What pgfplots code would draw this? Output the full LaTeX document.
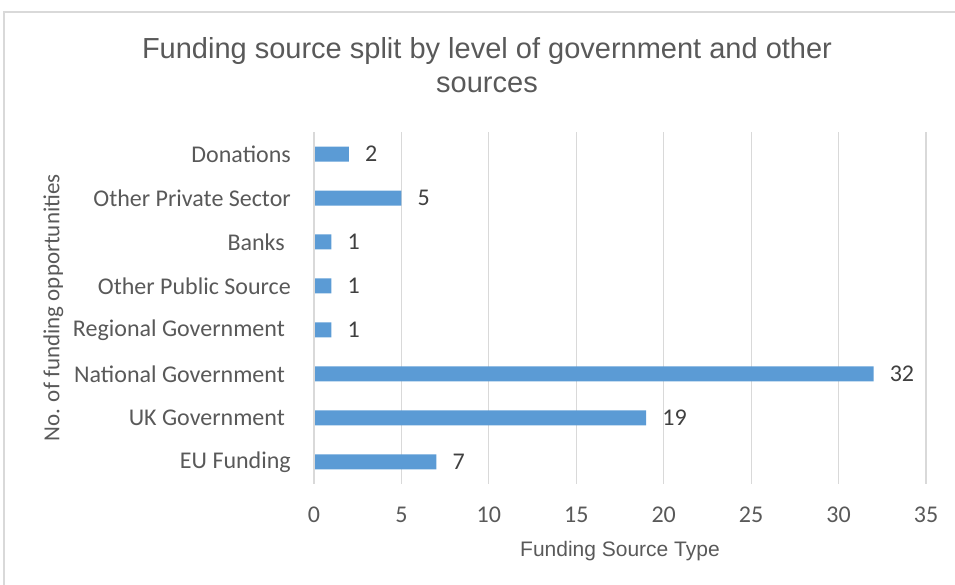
\documentclass[border=0pt]{standalone}
\usepackage{pgfplots}
\pgfplotsset{compat=1.18}
\usepackage{fontspec}
\setmainfont{Carlito}
\newfontfamily\arial{Liberation Sans}
\definecolor{barblue}{HTML}{5B9BD5}
\definecolor{txt}{HTML}{595959}
\definecolor{dtxt}{HTML}{404040}
\definecolor{gridc}{HTML}{D9D9D9}
\newcommand{\tsp}{\hspace*{0.25em}}
\begin{document}
\begin{tikzpicture}[x=1pt,y=1pt]
\path[use as bounding box] (0,0) rectangle (955,585);
\draw[gridc, line width=1.5pt] (4,0) -- (4,573) -- (955,573);
\node[anchor=base, font=\arial\fontsize{29}{34}\selectfont, text=txt] at (487,526) {Funding source split by level of government and other};
\node[anchor=base, font=\arial\fontsize{29}{34}\selectfont, text=txt] at (487,492) {sources};
\begin{axis}[
  at={(314pt,101pt)}, anchor=south west,
  scale only axis, width=612pt, height=352pt,
  xbar, bar width=15pt,
  xmin=0, xmax=35, ymin=-0.5, ymax=7.5,
  xtick={0,5,...,35}, ytick={0,...,7},
  yticklabels={EU Funding, UK Government\tsp, National Government\tsp, Regional Government\tsp, Other Public Source, Banks\tsp, Other Private Sector, Donations},
  major tick length=0pt,
  xmajorgrids, grid style={gridc, line width=1.2pt},
  axis line style={draw=none},
  /pgf/number format/assume math mode=true,
  xticklabel style={font=\fontsize{24}{28}\selectfont, text=txt, inner sep=0pt, anchor=north, yshift=-23pt},
  yticklabel style={font=\fontsize{24}{28}\selectfont, text=txt, inner sep=0pt, anchor=east, xshift=-23pt},
  ylabel={No. of funding opportunities},
  ylabel style={font=\fontsize{23}{28}\selectfont, text=txt, at={(axis description cs:-0.426,0.5)}, anchor=center},
  xlabel={Funding Source Type},
  xlabel style={font=\arial\fontsize{21}{25}\selectfont, text=txt, at={(axis description cs:0.5,-0.19)}, anchor=center},
  nodes near coords,
  nodes near coords style={font=\fontsize{24}{28}\selectfont, text=dtxt, anchor=west, inner sep=0pt, xshift=16pt},
]
\addplot[fill=barblue, draw=none] coordinates {
  (7,0) (19,1) (32,2) (1,3) (1,4) (1,5) (5,6) (2,7)
};
\draw[gridc, line width=1.2pt] (axis cs:0,-0.5) -- (axis cs:0,7.5);
\end{axis}
\end{tikzpicture}
\end{document}
